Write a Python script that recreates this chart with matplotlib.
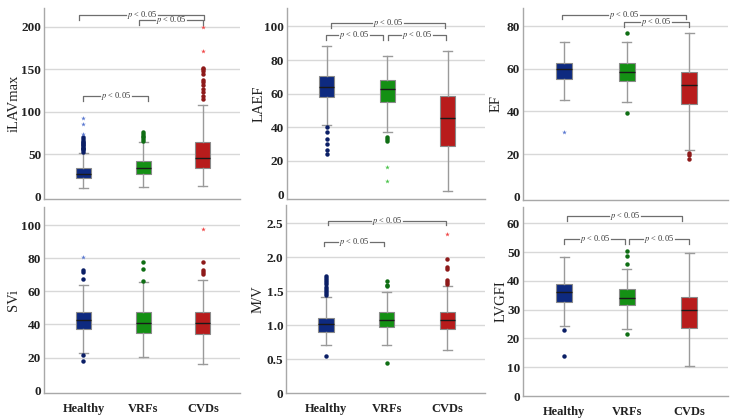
import matplotlib
matplotlib.use("Agg")
import matplotlib.pyplot as plt
from matplotlib.ticker import FixedLocator, FixedFormatter

plt.rcParams['font.family'] = ['Liberation Serif', 'DejaVu Serif']
plt.rcParams['mathtext.fontset'] = 'stix'

groups = ["Healthy", "VRFs", "CVDs"]

# ---- iLAVmax ----
ilav_q1 = [22, 27, 34]
ilav_med = [27, 34, 46]
ilav_q3 = [34, 42, 64]
ilav_lo = [11, 12, 13]
ilav_hi = [52, 64, 108]
ilav_out = [[53, 55, 56, 57, 58, 60, 61, 62, 63, 65, 66, 68, 70],
            [66, 68, 70, 72, 74, 76],
            [115, 119, 123, 127, 131, 135, 137, 145, 148, 150, 152]]
ilav_ext = [[74, 86, 93], [], [172, 200]]

# ---- LAEF ----
laef_q1 = [58, 55, 29]
laef_med = [64, 63, 45.5]
laef_q3 = [70.5, 68, 58.5]
laef_lo = [41.5, 37, 2]
laef_hi = [88.5, 82.5, 85.5]
laef_out = [[24, 26.5, 30, 33, 37, 40], [32, 33, 34], []]
laef_ext = [[], [8, 16], []]

# ---- EF ----
ef_q1 = [55, 54.5, 43.5]
ef_med = [60, 58.7, 52.5]
ef_q3 = [62.7, 62.7, 58.5]
ef_lo = [45.5, 44.5, 22]
ef_hi = [72.7, 72.7, 77]
ef_out = [[], [39.5, 77], [17.5, 19.5, 20.5]]
ef_ext = [[30.5], [], []]

# ---- SVi ----
svi_q1 = [37.5, 35, 34.3]
svi_med = [42.5, 41, 41]
svi_q3 = [47.8, 47.6, 47.8]
svi_lo = [23, 20.5, 16]
svi_hi = [64, 65.5, 67]
svi_out = [[18, 21.5, 67.5, 72, 73], [66.5, 73.5, 77.5], [70.5, 72, 73, 78]]
svi_ext = [[80.5], [], [97.5]]

# ---- M/V ----
mv_q1 = [0.90, 0.97, 0.94]
mv_med = [1.02, 1.08, 1.07]
mv_q3 = [1.11, 1.19, 1.20]
mv_lo = [0.71, 0.71, 0.64]
mv_hi = [1.42, 1.49, 1.57]
mv_out = [[0.54, 1.44, 1.47, 1.50, 1.53, 1.56, 1.60, 1.63, 1.66, 1.70, 1.72],
          [0.44, 1.57, 1.59, 1.65],
          [1.60, 1.63, 1.67, 1.83, 1.85, 1.97]]
mv_ext = [[], [], [2.34]]

# ---- LVGFI ----
lvg_q1 = [32.6, 31.6, 23.8]
lvg_med = [36, 34.2, 29.9]
lvg_q3 = [39.1, 37.2, 34.3]
lvg_lo = [24.5, 23.3, 10.3]
lvg_hi = [48.2, 44.1, 49.8]
lvg_out = [[14, 23], [21.5, 46, 48.6, 50.3], []]
lvg_ext = [[], [], []]

ptext = r"$\it{p}$ < 0.05"

panels = [
    dict(label="iLAVmax", q1=ilav_q1, med=ilav_med, q3=ilav_q3, lo=ilav_lo, hi=ilav_hi,
         out=ilav_out, ext=ilav_ext, ylim=(-2.5, 222), ticks=[0, 50, 100, 150, 200],
         ticklabels=["0", "50", "100", "150", "200"],
         brackets=[(-0.07, 2.02, 214), (0.93, 2.0, 208), (0.0, 1.08, 118)],
         pos=(44, 8, 240, 199), lab=-0.12),
    dict(label="LAEF", q1=laef_q1, med=laef_med, q3=laef_q3, lo=laef_lo, hi=laef_hi,
         out=laef_out, ext=laef_ext, ylim=(-2.8, 111), ticks=[0, 20, 40, 60, 80, 100],
         ticklabels=["0", "20", "40", "60", "80", "100"],
         brackets=[(0.07, 1.96, 102), (-0.02, 0.93, 95), (1.01, 1.98, 95)],
         pos=(287, 8, 485, 199), lab=-0.11),
    dict(label="EF", q1=ef_q1, med=ef_med, q3=ef_q3, lo=ef_lo, hi=ef_hi,
         out=ef_out, ext=ef_ext, ylim=(-1.5, 88.5), ticks=[0, 20, 40, 60, 80],
         ticklabels=["0", "20", "40", "60", "80"],
         brackets=[(-0.03, 1.94, 85.4), (0.96, 1.99, 82)],
         pos=(523, 8, 728, 200), lab=-0.10),
    dict(label="SVi", q1=svi_q1, med=svi_med, q3=svi_q3, lo=svi_lo, hi=svi_hi,
         out=svi_out, ext=svi_ext, ylim=(-1.4, 111), ticks=[0, 20, 40, 60, 80, 100],
         ticklabels=["0", "20", "40", "60", "80", "100"],
         brackets=[],
         pos=(44, 207, 240, 393), lab=-0.12),
    dict(label="M/V", q1=mv_q1, med=mv_med, q3=mv_q3, lo=mv_lo, hi=mv_hi,
         out=mv_out, ext=mv_ext, ylim=(0, 2.77), ticks=[0, 0.5, 1.0, 1.5, 2.0, 2.5],
         ticklabels=["0", "0.5", "1.0", "1.5", "2.0", "2.5"],
         brackets=[(0.03, 1.97, 2.54), (-0.03, 0.96, 2.23)],
         pos=(286, 205, 485, 393), lab=-0.11),
    dict(label="LVGFI", q1=lvg_q1, med=lvg_med, q3=lvg_q3, lo=lvg_lo, hi=lvg_hi,
         out=lvg_out, ext=lvg_ext, ylim=(0, 65.7), ticks=[0, 10, 20, 30, 40, 50, 60],
         ticklabels=["0", "10", "20", "30", "40", "50", "60"],
         brackets=[(0.05, 1.89, 62.6), (0.0, 0.97, 54.5), (1.04, 2.0, 54.5)],
         pos=(523, 207, 728, 396), lab=-0.075),
]

face_colors = ["#0e2a80", "#149014", "#b81c1c"]
dot_colors = ["#0b1f66", "#0f6e14", "#8e1a1a"]
star_colors = ["#5a78d0", "#4cc44c", "#f04848"]

XLIM = (-0.66, 2.62)
W, H = 735, 419
fig = plt.figure(figsize=(W / 100, H / 100), dpi=100)

for i, p in enumerate(panels):
    x0, y0, x1, y1 = p["pos"]
    ax = fig.add_axes([x0 / W, (H - y1) / H, (x1 - x0) / W, (y1 - y0) / H])
    stats = []
    for g in range(3):
        stats.append(dict(med=p["med"][g], q1=p["q1"][g], q3=p["q3"][g],
                          whislo=p["lo"][g], whishi=p["hi"][g], fliers=[], label=groups[g]))
    bp = ax.bxp(stats, positions=[0, 1, 2], widths=0.25, patch_artist=True,
                showfliers=False,
                boxprops=dict(linewidth=0.8, edgecolor="#8a8a8a"),
                medianprops=dict(color="#1a1a1a", linewidth=1.0),
                whiskerprops=dict(color="#9a9a9a", linewidth=1.0),
                capprops=dict(color="#9a9a9a", linewidth=1.0),
                capwidths=0.15)
    for g, patch in enumerate(bp["boxes"]):
        patch.set_facecolor(face_colors[g])
    for g in range(3):
        if p["out"][g]:
            ax.plot([g] * len(p["out"][g]), p["out"][g], linestyle="none", marker="o",
                    markersize=3.2, color=dot_colors[g], markeredgewidth=0, zorder=3)
        if p["ext"][g]:
            ax.plot([g] * len(p["ext"][g]), p["ext"][g], linestyle="none", marker="*",
                    markersize=3.5, color=star_colors[g], markeredgewidth=0, zorder=3)

    ax.set_xlim(*XLIM)
    ax.set_ylim(*p["ylim"])
    ax.yaxis.set_major_locator(FixedLocator(p["ticks"]))
    ax.yaxis.set_major_formatter(FixedFormatter(p["ticklabels"]))
    for t in p["ticks"]:
        if t != 0:
            ax.axhline(t, color="#d8d8d8", linewidth=1.0, zorder=0)
    ax.tick_params(axis="y", length=0, pad=2, labelsize=9.5, colors="#222222")
    for lbl in ax.get_yticklabels():
        lbl.set_fontweight("bold")
    if i >= 3:
        ax.set_xticks([0, 1, 2])
        ax.set_xticklabels(groups, fontweight="bold", fontsize=9)
        ax.tick_params(axis="x", length=0, pad=7, colors="#222222")
    else:
        ax.set_xticks([])
    for s in ["top", "right"]:
        ax.spines[s].set_visible(False)
    for s in ["left", "bottom"]:
        ax.spines[s].set_color("#a8a8a8")
        ax.spines[s].set_linewidth(1.0)
    ax.set_ylabel(p["label"], fontsize=10.5, color="#222222")
    ax.yaxis.set_label_coords(p["lab"], 0.5)

    yr = p["ylim"][1] - p["ylim"][0]
    tick = 0.025 * yr
    gap = 16.0 * (XLIM[1] - XLIM[0]) / (x1 - x0)
    for (bx1, bx2, by) in p["brackets"]:
        mid = (bx1 + bx2) / 2
        ax.plot([bx1, bx1, mid - gap], [by - tick, by, by],
                color="#6e6e6e", linewidth=0.9, zorder=4, clip_on=False)
        ax.plot([mid + gap, bx2, bx2], [by, by, by - tick],
                color="#6e6e6e", linewidth=0.9, zorder=4, clip_on=False)
        ax.text(mid, by, ptext, ha="center", va="center", fontsize=6,
                color="#333333", zorder=5)

fig.savefig("out.png", dpi=100)
